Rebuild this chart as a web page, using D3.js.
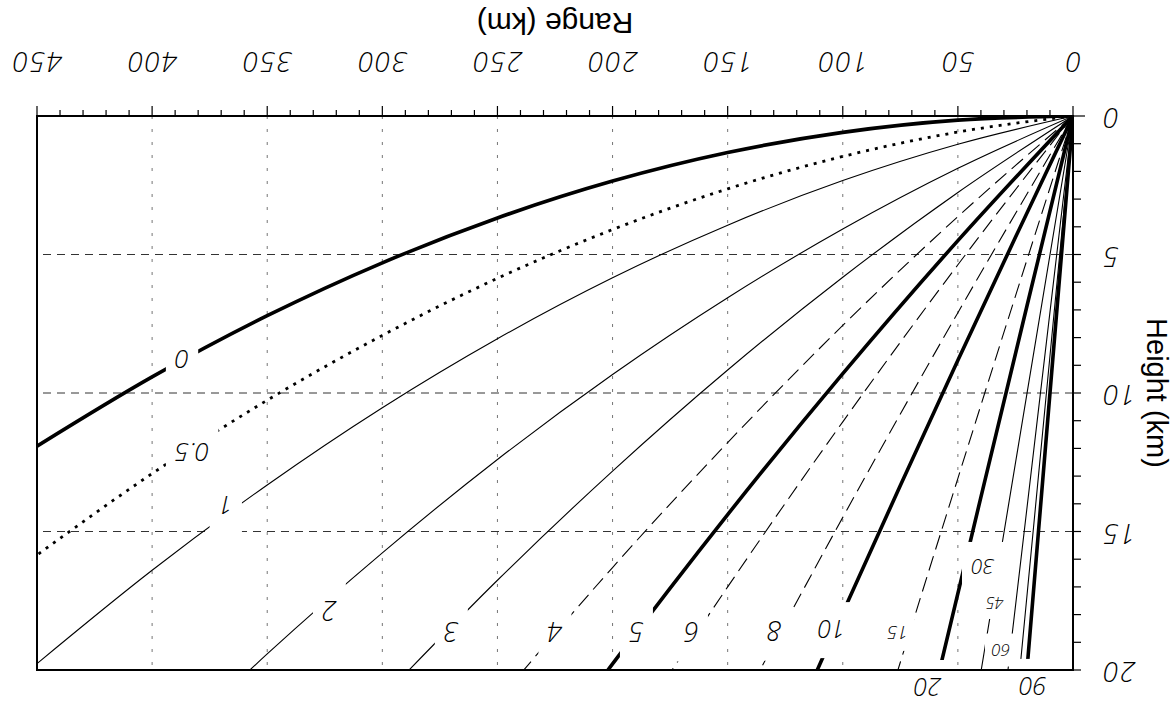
<!DOCTYPE html>
<html><head><meta charset="utf-8">
<script src="https://cdn.jsdelivr.net/npm/d3@7"></script>
<style>body{margin:0;background:#fff}</style>
</head><body><svg id="c" width="1173" height="713"></svg>
<script>
// ---- data ----
const rangeTicks = [0, 50, 100, 150, 200, 250, 300, 350, 400, 450];
const heightTicks = [0, 5, 10, 15, 20];
const elevations = [0, 0.5, 1, 2, 3, 4, 5, 6, 8, 10, 15, 20, 30, 45, 60, 90];

const rangeLow = [0, 50, 100, 150, 200, 250, 300, 350, 400, 450];
const h0  = [0, 0.15, 0.59, 1.32, 2.35, 3.68, 5.30, 7.21, 9.42, 11.92];
const h05 = [0, 0.58, 1.46, 2.63, 4.10, 5.86, 7.92, 10.26, 12.91, 15.85];
const h1  = [0, 1.02, 2.33, 3.94, 5.84, 8.04, 10.53, 13.32, 16.40, 19.77];
const h2  = [0, 1.89, 4.08, 6.56, 9.33, 12.40, 15.77, 19.42, 23.38];
const h3  = [0, 2.76, 5.82, 9.17, 12.82, 16.76, 21.0];
const h4  = [0, 3.63, 7.56, 11.79, 16.30, 21.12];
const h5  = [0, 4.50, 9.30, 14.39, 19.78, 25.47];
const h6  = [0, 5.37, 11.04, 17.00, 23.26];
const h8  = [0, 7.10, 14.49, 22.18];
const range10 = [0, 25, 50, 75, 100, 125];
const h10 = [0, 4.38, 8.82, 13.34, 17.93, 22.60];
const range15 = [0, 25, 50, 75, 100];
const h15 = [0, 6.50, 13.08, 19.72, 26.43];
const range20 = [0, 20, 40, 60, 80];
const h20 = [0, 6.86, 13.76, 20.71, 27.69];
const range30 = [0, 20, 40, 45];
const h30 = [0, 10.02, 20.07, 22.59];
const range45 = [0, 15, 30];
const h45 = [0, 10.61, 21.24];
const range60 = [0, 12, 24];
const h60 = [0, 10.39, 20.79];
const range90 = [0, 10, 20, 22];
const h90 = [0, 10, 20, 22];

const labelText   = ["0", "0.5", "1", "2", "3", "4", "5", "6", "8", "10", "15", "20", "30", "45", "60", "90"];
const labelRange  = [387, 382.6, 368, 323, 270, 225, 189.6, 165.7, 129.6, 104.8, 76.1, 63.1, 39.1, 33.9, 31.3, 17.4];
const labelHeight = [8.81, 12.17, 14.08, 17.9, 18.63, 18.63, 18.63, 18.63, 18.6, 18.56, 18.66, 20.65, 16.28, 17.58, 19.28, 20.61];

// ---- build ----
const W = 1173, H = 713;
const svg = d3.select('#c');
svg.append('rect').attr('width', W).attr('height', H).attr('fill', '#fff');
const g = svg.append('g').attr('transform', `rotate(180 ${W / 2} ${H / 2})`);

const x = d3.scaleLinear().domain([0, 450]).range([100, 1136]);
const y = d3.scaleLinear().domain([0, 20]).range([597, 43]);

const curves = [
  [rangeLow, h0], [rangeLow, h05], [rangeLow, h1], [rangeLow, h2], [rangeLow, h3],
  [rangeLow, h4], [rangeLow, h5], [rangeLow, h6], [rangeLow, h8], [range10, h10],
  [range15, h15], [range20, h20], [range30, h30], [range45, h45], [range60, h60], [range90, h90]
];
const THICK = {w: 3.6, dash: null};
const THIN = {w: 1.1, dash: null};
const DASH = {w: 1.1, dash: '15,7'};
const DOT = {w: 2.8, dash: '3,6'};
const styleFor = {0: THICK, 0.5: DOT, 1: THIN, 2: THIN, 3: THIN, 4: DASH, 5: THICK, 6: DASH,
  8: DASH, 10: THICK, 15: DASH, 20: THICK, 30: THIN, 45: THIN, 60: THIN, 90: THICK};
const labelSize = {"0": 26, "0.5": 26, "1": 26, "2": 27, "3": 27, "4": 27, "5": 27, "6": 27, "8": 27,
  "10": 25, "15": 19, "20": 25, "30": 21, "45": 16, "60": 17, "90": 25};
const NUMFONT = "'DejaVu Sans ExtraLight', 'Open Sans', 'DejaVu Sans', sans-serif";

svg.append('defs').append('clipPath').attr('id', 'plot')
  .append('rect').attr('x', x(0)).attr('y', y(20)).attr('width', x(450) - x(0)).attr('height', y(0) - y(20));

// grid
const grid = g.append('g');
grid.selectAll('line.hg').data(heightTicks.filter(d => d > 0 && d < 20)).join('line')
  .attr('x1', x(0)).attr('x2', x(450)).attr('y1', d => y(d)).attr('y2', d => y(d))
  .attr('stroke', '#333').attr('stroke-width', 1).attr('stroke-dasharray', '8,6');
grid.selectAll('line.vg').data(rangeTicks.filter(d => d > 0 && d < 450)).join('line')
  .attr('x1', d => x(d)).attr('x2', d => x(d)).attr('y1', y(0)).attr('y2', y(20))
  .attr('stroke', '#666').attr('stroke-width', 0.9).attr('stroke-dasharray', '3,10');

// curves
const line = d3.line().x(d => x(d[0])).y(d => y(d[1])).curve(d3.curveMonotoneX);
const cg = g.append('g').attr('clip-path', 'url(#plot)');
curves.forEach((c, i) => {
  const pts = c[0].slice(0, c[1].length).map((r, k) => [r, c[1][k]]);
  const st = styleFor[elevations[i]];
  cg.append('path').attr('d', line(pts)).attr('fill', 'none').attr('stroke', '#000')
    .attr('stroke-width', st.w).attr('stroke-dasharray', st.dash);
});

// labels with white gaps
const lg = g.append('g');
labelText.forEach((t, i) => {
  const grp = lg.append('g');
  const fs = labelSize[t];
  const txt = grp.append('text').text(t)
    .attr('x', x(labelRange[i])).attr('y', y(labelHeight[i]))
    .attr('text-anchor', 'middle').attr('dominant-baseline', 'central')
    .attr('font-family', NUMFONT).attr('font-style', 'italic').attr('font-weight', 300)
    .attr('font-size', fs).attr('fill', '#000');
  const b = txt.node().getBBox();
  const px = fs < 20 ? 6 : 9, py = fs < 20 ? 5 : 11;
  const wmin = Math.max(b.width + 2 * px, 30);
  grp.insert('rect', 'text').attr('x', b.x + b.width / 2 - wmin / 2).attr('y', b.y - py)
    .attr('width', wmin).attr('height', b.height + 2 * py).attr('fill', '#fff');
});

// axes ticks
const ax = g.append('g').attr('stroke', '#000');
const minorR = d3.range(0, 451, 10);
ax.selectAll('line.rt').data(minorR).join('line')
  .attr('x1', d => x(d)).attr('x2', d => x(d)).attr('y1', y(0))
  .attr('y2', d => y(0) + (d % 50 === 0 ? 10 : 6)).attr('stroke-width', 1.2);
const minorH = d3.range(0, 21, 1);
ax.selectAll('line.ht').data(minorH).join('line')
  .attr('y1', d => y(d)).attr('y2', d => y(d)).attr('x1', x(0))
  .attr('x2', d => x(0) - (d === 0 ? 12 : 8)).attr('stroke-width', 1.2);

// frame
g.append('rect').attr('x', x(0)).attr('y', y(20)).attr('width', x(450) - x(0)).attr('height', y(0) - y(20))
  .attr('fill', 'none').attr('stroke', '#000').attr('stroke-width', 2);

// tick labels
g.selectAll('text.rl').data(rangeTicks).join('text')
  .attr('x', d => x(d)).attr('y', y(0) + 64).attr('text-anchor', 'middle')
  .attr('font-family', NUMFONT).attr('font-style', 'italic').attr('font-weight', 300)
  .attr('font-size', 28).attr('letter-spacing', 1.5).text(d => d);
g.selectAll('text.hl').data(heightTicks).join('text')
  .attr('x', x(0) - 29).attr('y', d => y(d) - 3).attr('text-anchor', 'end').attr('dominant-baseline', 'central')
  .attr('font-family', NUMFONT).attr('font-style', 'italic').attr('font-weight', 300)
  .attr('font-size', 28).attr('letter-spacing', 1.5).text(d => d);

// titles
g.append('text').attr('x', (x(0) + x(450)) / 2).attr('y', 700).attr('text-anchor', 'middle')
  .attr('font-family', 'Liberation Sans').attr('font-size', 30).text('Range (km)');
g.append('text').attr('transform', `translate(26,${(y(0) + y(20)) / 2}) rotate(-90)`)
  .attr('text-anchor', 'middle').attr('font-family', 'Liberation Sans').attr('font-size', 29)
  .text('Height (km)');
</script></body></html>
